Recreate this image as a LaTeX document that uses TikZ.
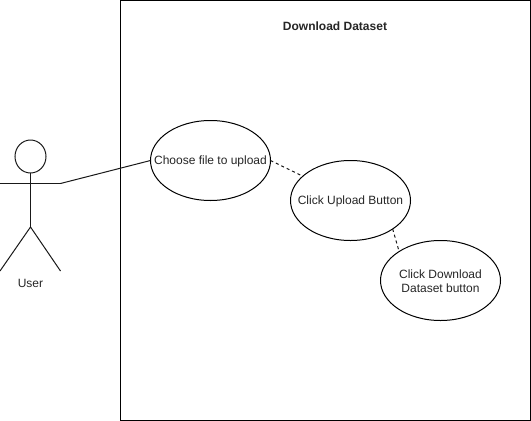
\documentclass[tikz,border=0pt]{standalone}
\usepackage{fontspec}
\setmainfont{Liberation Sans}
\usetikzlibrary{shapes.geometric}
\begin{document}
\begin{tikzpicture}[x=1pt,y=-1pt,
  every node/.style={font=\fontsize{12}{14}\selectfont,text=black!85},
  usecase/.style={draw=black,line width=1pt,ellipse,minimum width=120pt,minimum height=80pt,inner sep=0pt,outer sep=0pt},
  lbl/.style={inner sep=0pt,align=center},
  ln/.style={draw=black!90,line width=1pt},
  dash line/.style={ln,dash pattern=on 3pt off 3pt}]
\useasboundingbox (0,0) rectangle (531,421);
\fill[white] (0,0) rectangle (531,421);
\node[draw=black,line width=1pt,minimum width=410pt,minimum height=420pt,inner sep=0pt,outer sep=0pt,anchor=north west] (system) at (120.5,0.5) {};
\node[lbl,font=\fontsize{12}{14}\selectfont\bfseries] (title) at (335,26) {Download Dataset};
% actor
\node[draw=black!90,line width=1pt,ellipse,minimum width=31pt,minimum height=33pt,inner sep=0pt,outer sep=0pt] (head) at (30.5,156.5) {};
\coordinate (hip) at (30.5,227);
\coordinate (armL) at (0,183.5);
\coordinate (armR) at (60.5,183.5);
\coordinate (footL) at (0,271);
\coordinate (footR) at (60.5,271);
\draw[ln] (head.south) -- (hip);
\draw[ln] (armL) -- (armR);
\draw[ln] (footL) -- (hip) -- (footR);
\node[lbl] (user) at (30.5,283.5) {User};
% use cases
\node[usecase] (e1) at (210.5,160.5) {};
\node[usecase] (e2) at (350.5,200.5) {};
\node[usecase] (e3) at (440.5,280.5) {};
\node[lbl] (t1) at (210.5,161.5) {Choose file to upload};
\node[lbl] (t2) at (350.5,201.5) {Click Upload Button};
\node[lbl] (t3) at (440.5,281) {Click Download\\Dataset button};
\draw[ln] (armR) -- (e1.west);
\draw[dash line] (e1.east) -- (e2.153);
\draw[dash line] (e2.-34) -- (e3.145);
\end{tikzpicture}
\end{document}
